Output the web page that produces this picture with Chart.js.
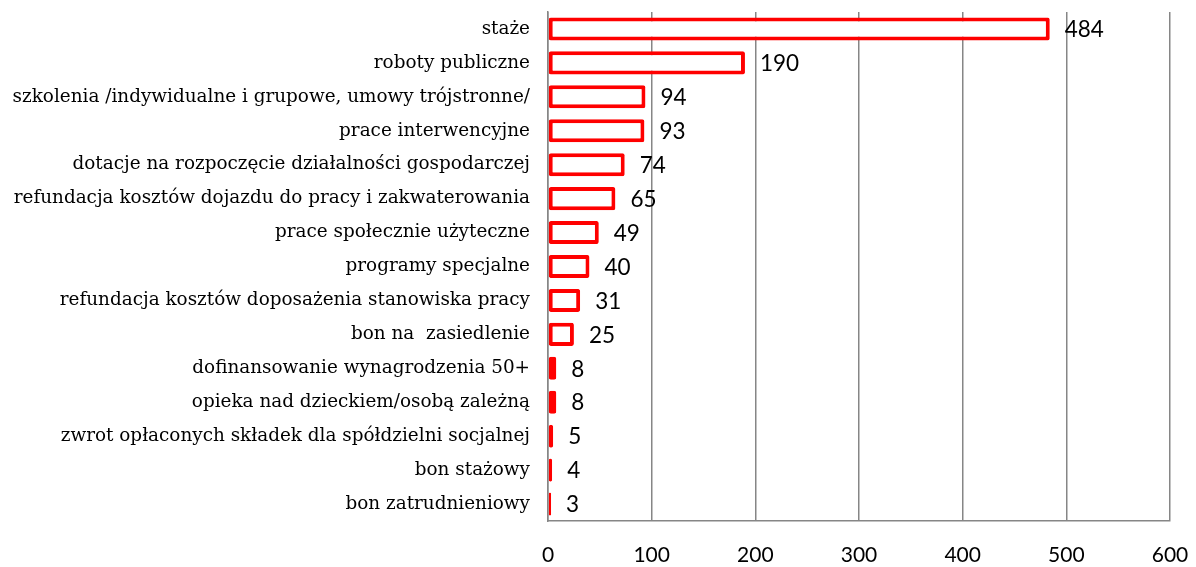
<!DOCTYPE html>
<html>
<head>
<meta charset="utf-8">
<script src="https://cdn.jsdelivr.net/npm/chart.js@4"></script>
<style>
html,body{margin:0;padding:0;background:#fff;}
canvas{display:block;}
</style>
</head>
<body>
<canvas id="c" width="1196" height="567"></canvas>
<script>
const categories = [
  "staże",
  "roboty publiczne",
  "szkolenia /indywidualne i grupowe, umowy trójstronne/",
  "prace interwencyjne",
  "dotacje na rozpoczęcie działalności gospodarczej",
  "refundacja kosztów dojazdu do pracy i zakwaterowania",
  "prace społecznie użyteczne",
  "programy specjalne",
  "refundacja kosztów doposażenia stanowiska pracy",
  "bon na  zasiedlenie",
  "dofinansowanie wynagrodzenia 50+",
  "opieka nad dzieckiem/osobą zależną",
  "zwrot opłaconych składek dla spółdzielni socjalnej",
  "bon stażowy",
  "bon zatrudnieniowy"
];
const values = [484, 190, 94, 93, 74, 65, 49, 40, 31, 25, 8, 8, 5, 4, 3];
const xTicks = [0, 100, 200, 300, 400, 500, 600];

const valueLabels = {
  id: 'valueLabels',
  afterDatasetsDraw(chart) {
    const ctx = chart.ctx;
    const meta = chart.getDatasetMeta(0);
    ctx.save();
    ctx.font = '22.5px Lato, "Open Sans", sans-serif';
    ctx.fillStyle = '#000';
    ctx.textAlign = 'left';
    ctx.textBaseline = 'middle';
    meta.data.forEach((bar, i) => {
      ctx.fillText(String(values[i]), bar.x + 15, bar.y + 1);
    });
    ctx.restore();
  }
};

new Chart(document.getElementById('c'), {
  type: 'bar',
  data: {
    labels: categories,
    datasets: [{
      data: values,
      backgroundColor: '#ffffff',
      borderColor: '#ff0000',
      borderWidth: 4,
      borderRadius: 2,
      borderSkipped: false,
      categoryPercentage: 1,
      barPercentage: 0.68
    }]
  },
  options: {
    indexAxis: 'y',
    responsive: false,
    animation: false,
    layout: { padding: 0 },
    plugins: { legend: { display: false }, tooltip: { enabled: false } },
    scales: {
      x: {
        min: 0, max: 600,
        afterBuildTicks(axis) { axis.ticks = xTicks.map(v => ({ value: v })); },
        afterFit(axis) { axis.height = 46; axis.paddingLeft = 0; axis.paddingRight = 26; },
        grid: { color: '#868686', lineWidth: 1.5, tickLength: 0, drawTicks: false },
        border: { color: '#868686', width: 1.5 },
        ticks: { padding: 22, color: '#000', font: { family: 'Lato, "Open Sans", sans-serif', size: 21 } }
      },
      y: {
        afterFit(axis) { axis.width = 548; axis.paddingTop = 12; axis.paddingBottom = 0; },
        grid: { display: false, drawTicks: false },
        border: { color: '#868686', width: 1.5 },
        ticks: { padding: 18, color: '#000', autoSkip: false, font: { family: '"DejaVu Serif", "Liberation Serif", serif', size: 18.4 } }
      }
    }
  },
  plugins: [valueLabels]
});
</script>
</body>
</html>
